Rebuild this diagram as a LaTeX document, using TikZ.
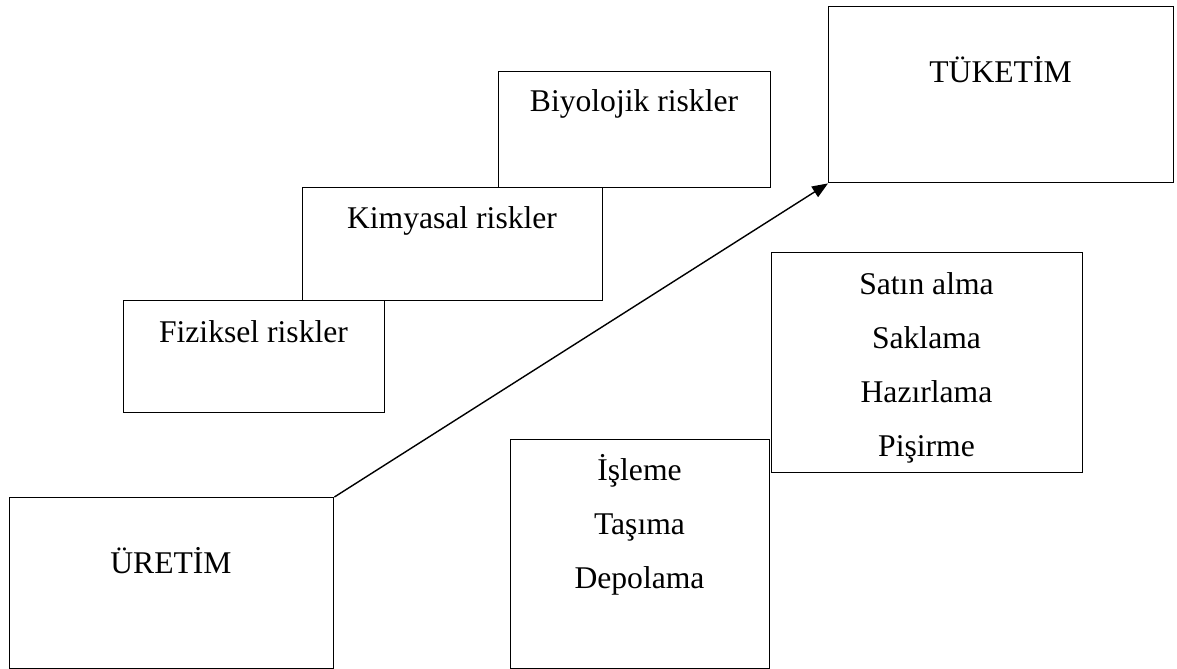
\documentclass[tikz,border=0pt]{standalone}
\usepackage{fontspec}
\setmainfont{Liberation Serif}
\usetikzlibrary{arrows.meta,positioning}

\begin{document}
\begin{tikzpicture}[x=0.02cm,y=-0.02cm,
  font=\fontsize{18}{30.7}\selectfont,
  st/.style 2 args={draw,line width=0.8pt,anchor=north west,inner sep=0pt,minimum width=#1*0.02cm,minimum height=#2*0.02cm},
  txt/.style={inner sep=0pt,align=center,anchor=base},
  arr/.style={-{Triangle[length=9pt,width=7pt]},line width=0.8pt}]
\useasboundingbox (0,0) rectangle (1177,669);
\node[st={272}{116}] (bio) at (498,71) {};
\node[st={300}{113}] (kim) at (302,187) {};
\node[st={261}{112}] (fiz) at (123,300) {};
\node[st={345}{176}] (tuk) at (828,6) {};
\node[st={311}{220}] (sat) at (771,252) {};
\node[st={259}{229}] (isl) at (510,439) {};
\node[st={324}{171}] (ure) at (9,497) {};
\node[txt] (bioT) at (634,112) {Biyolojik riskler};
\node[txt] (kimT) at (452,228) {Kimyasal riskler};
\node[txt] (fizT) at (253.5,342) {Fiziksel riskler};
\node[txt] (tukT) at (1000.5,83) {TÜKETİM};
\node[txt] (ureT) at (171,573) {ÜRETİM};
\node[txt,anchor=north] (satT) at (926.5,272) {Satın alma\\Saklama\\Hazırlama\\Pişirme};
\node[txt,anchor=north] (islT) at (639.5,454) {İşleme\\Taşıma\\Depolama};
\draw[arr] (ure.north east) -- (tuk.south west);
\end{tikzpicture}
\end{document}
